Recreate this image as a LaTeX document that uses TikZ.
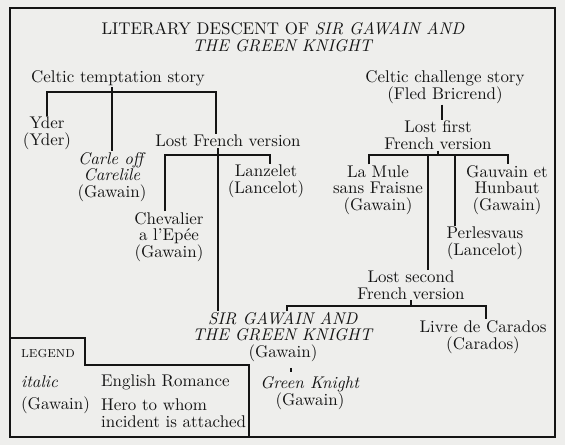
\documentclass[tikz,border=0pt]{standalone}
\usepackage{xcolor}
\usetikzlibrary{calc}
\definecolor{PaperGray}{HTML}{EEEEEC}
\definecolor{InkBlack}{HTML}{141414}

\begin{document}
\begin{tikzpicture}[x=0.62pt,y=-0.62pt,font=\fontsize{10.5}{10.3}\selectfont,
  txt/.style={align=center,inner sep=0.5pt,text=InkBlack},
  tree/.style={draw=InkBlack,line width=1.2pt},
  frame/.style={draw=InkBlack,line width=1.7pt}]
  \fill[PaperGray] (0,0) rectangle (565,445);
  \useasboundingbox (0,0) rectangle (565,445);
  \draw[frame] (10,8) rectangle (555,437);
  \draw[frame] (10,338) -- (85,338) -- (85,365) -- (249,365) -- (249,437);
  \node[txt] (title) at (283,37) {LITERARY DESCENT OF \textit{SIR GAWAIN AND}\\\textit{THE GREEN KNIGHT}};
  \node[txt] (temptation) at (118,78) {Celtic temptation story};
  \node[txt] (yder) at (47,133) {Yder\\(Yder)};
  \node[txt] (carle) at (112,177) {\textit{Carle off}\\\textit{Carelile}\\(Gawain)};
  \node[txt] (lostfr) at (228,141) {Lost French version};
  \node[txt] (lanzelet) at (266,181) {Lanzelet\\(Lancelot)};
  \node[txt] (chevalier) at (169,237) {Chevalier\\a l'Epée\\(Gawain)};
  \node[txt] (challenge) at (445,87) {Celtic challenge story\\(Fled Bricrend)};
  \node[txt] (lostfirst) at (438,135) {Lost first\\French version};
  \node[txt] (mule) at (378,190) {La Mule\\sans Fraisne\\(Gawain)};
  \node[txt] (hunbaut) at (507,190) {Gauvain et\\Hunbaut\\(Gawain)};
  \node[txt] (perlesvaus) at (485,243) {Perlesvaus\\(Lancelot)};
  \node[txt] (lostsecond) at (411,285) {Lost second\\French version};
  \node[txt] (carados) at (483,337) {Livre de Carados\\(Carados)};
  \node[txt] (sgg) at (283,337) {\textit{SIR GAWAIN AND}\\\textit{THE GREEN KNIGHT}\\(Gawain)};
  \node[txt] (greenknight) at (310,393) {\textit{Green Knight}\\(Gawain)};
  \node[txt,anchor=west,font=\fontsize{9.5}{10}\selectfont] (legend) at (20,354) {\textsc{legend}};
  \node[txt,anchor=west] (keyit) at (20,382) {\textit{italic}};
  \node[txt,anchor=west] (keyitdesc) at (100,382) {English Romance};
  \node[txt,anchor=west] (keyhero) at (20,405) {(Gawain)};
  \node[txt,anchor=west,align=left] (keyherodesc) at (100,413) {Hero to whom\\incident is attached};
  \coordinate (tbar) at (216,92);
  \coordinate (fbar) at (218,155);
  \coordinate (f1) at (165,155);
  \coordinate (f3) at (270,155);
  \coordinate (s1) at (369,155);
  \coordinate (s2) at (428,155);
  \coordinate (s3) at (455,155);
  \coordinate (s4) at (508,155);
  \coordinate (l1) at (287,306);
  \coordinate (l2) at (486,306);
  \coordinate (g) at (291,370);
  \draw[tree] (yder.north) |- (tbar) -- (tbar |- lostfr.north);
  \draw[tree] (temptation.south -| carle.north) -- (carle.north);
  \draw[tree] (f1 |- chevalier.north) -- (f1) -- (f3) -- (f3 |- lanzelet.north);
  \draw[tree] (fbar |- lostfr.south) -- (fbar |- sgg.north);
  \draw[tree] (challenge.south -| 442,0) -- (lostfirst.north -| 442,0);
  \draw[tree] (s1 |- mule.north) -- (s1) -- (s4) -- (s4 |- hunbaut.north);
  \draw[tree] (lostfirst.south) -- (lostfirst.south |- s1);
  \draw[tree] (s2) -- (s2 |- lostsecond.north);
  \draw[tree] (s3) -- (s3 |- perlesvaus.north);
  \draw[tree] (l1 |- sgg.north) -- (l1) -- (l2) -- (l2 |- carados.north);
  \draw[tree] (lostsecond.south) -- (lostsecond.south |- l1);
  \draw[tree,shorten <=3pt,shorten >=2pt] (g |- sgg.south) -- (g |- greenknight.north);
\end{tikzpicture}
\end{document}
